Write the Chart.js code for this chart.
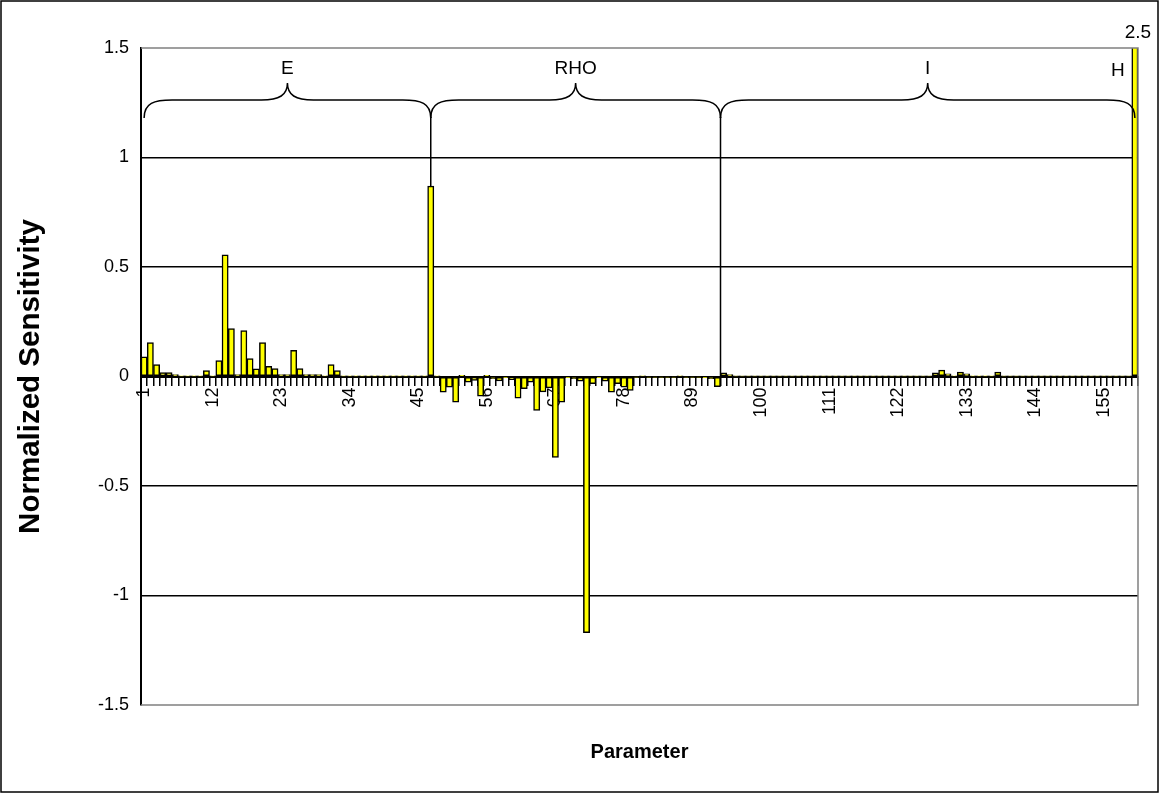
<!DOCTYPE html>
<html>
<head>
<meta charset="utf-8">
<script src="https://cdn.jsdelivr.net/npm/chart.js@4"></script>
<style>
  html, body { margin: 0; padding: 0; background: #fff; }
  #wrap { width: 1160px; height: 794px; }
</style>
</head>
<body>
<div id="wrap"><canvas id="sensChart"></canvas></div>
<script>
// parameter groups, values
const eValues = [
  0.09, 0.155, 0.055, 0.018, 0.018, 0.009, 0.002, 0.002, 0.002, 0.002,
  0.027, 0.002, 0.073, 0.556, 0.219, 0.009, 0.21, 0.082, 0.035, 0.155,
  0.046, 0.036, 0.009, 0.009, 0.12, 0.036, 0.009, 0.009, 0.009, 0.003,
  0.055, 0.027, 0.002, 0.002, 0.002, 0.002, 0.002, 0.002, 0.002, 0.002,
  0.002, 0.002, 0.002, 0.002, 0.002, 0.002, 0.87
];
const rhoValues = [
  0.002, -0.071, -0.049, -0.117, 0.005, -0.026, -0.018, -0.09, 0.005, -0.01,
  -0.02, -0.005, -0.015, -0.099, -0.055, -0.026, -0.155, -0.07, -0.052, -0.37,
  -0.117, -0.005, -0.01, -0.021, -1.17, -0.033, -0.005, -0.021, -0.071, -0.033,
  -0.049, -0.064, -0.003, 0.003, -0.003, -0.003, -0.003, -0.003, -0.003, 0.003,
  -0.003, -0.003, -0.003, -0.005, -0.01, -0.046
];
const iValues = [
  0.017, 0.009, 0.001, 0.001, 0.001, 0.001, 0.001, 0.001, 0.001, 0.001,
  0.001, 0.001, 0.001, 0.001, 0.001, 0.001, 0.001, 0.001, 0.001, 0.001,
  0.001, 0.001, 0.001, 0.001, 0.001, 0.001, 0.001, 0.001, 0.001, 0.001,
  0.001, 0.001, 0.001, 0.001, 0.017, 0.029, 0.012, 0.003, 0.02, 0.012,
  0.002, 0.002, 0.002, 0.002, 0.02, 0.001, 0.001, 0.001, 0.001, 0.001,
  0.001, 0.001, 0.001, 0.001, 0.001, 0.001, 0.001, 0.001, 0.001, 0.001,
  0.001, 0.001, 0.001, 0.001, 0.001, 0.001
];
const hValues = [2.5];

const groupNames = ["E", "RHO", "I"];
const braceEdges = [1, 47, 93.5, 160];   // in category units (1-based)
const yTicks = [-1.5, -1, -0.5, 0, 0.5, 1, 1.5];
const labelEvery = 11;

const values = eValues.concat(rhoValues, iValues, hValues);
const categories = values.map((v, i) => String(i + 1));

const FONT = "'Liberation Sans', Arial, sans-serif";

function drawBrace(ctx, xa, xb, yFlat) {
  const xm = (xa + xb) / 2;
  const yEnd = yFlat + 18, yTip = yFlat - 17;
  ctx.beginPath();
  ctx.moveTo(xa, yEnd);
  ctx.bezierCurveTo(xa, yFlat + 3, xa + 10, yFlat, xa + 28, yFlat);
  ctx.lineTo(xm - 26, yFlat);
  ctx.bezierCurveTo(xm - 8, yFlat, xm, yFlat - 5, xm, yTip);
  ctx.bezierCurveTo(xm, yFlat - 5, xm + 8, yFlat, xm + 26, yFlat);
  ctx.lineTo(xb - 28, yFlat);
  ctx.bezierCurveTo(xb - 10, yFlat, xb, yFlat + 3, xb, yEnd);
  ctx.stroke();
}

const annotate = {
  id: "annotate",
  beforeDatasetsDraw(chart) {
    const { ctx, scales: { x, y } } = chart;
    const step = x.getPixelForValue(1) - x.getPixelForValue(0);
    const px = c => x.getPixelForValue(0) + (c - 1) * step;
    ctx.save();
    ctx.strokeStyle = "#000";
    ctx.lineWidth = 1.5;
    [braceEdges[1], braceEdges[2]].forEach(c => {
      ctx.beginPath();
      ctx.moveTo(px(c), 117);
      ctx.lineTo(px(c), y.getPixelForValue(0));
      ctx.stroke();
    });
    ctx.restore();
  },
  afterDraw(chart) {
    const { ctx, chartArea: a, scales: { x } } = chart;
    const step = x.getPixelForValue(1) - x.getPixelForValue(0);
    const px = c => x.getPixelForValue(0) + (c - 1) * step;
    ctx.save();

    // plot area border (grey)
    ctx.strokeStyle = "#808080";
    ctx.lineWidth = 1.5;
    ctx.beginPath();
    ctx.moveTo(a.left, a.top);
    ctx.lineTo(a.right, a.top);
    ctx.lineTo(a.right, a.bottom);
    ctx.lineTo(a.left, a.bottom);
    ctx.stroke();

    // braces and group labels
    ctx.strokeStyle = "#000";
    ctx.fillStyle = "#000";
    ctx.font = "19px " + FONT;
    ctx.textAlign = "center";
    ctx.textBaseline = "middle";
    for (let g = 0; g < groupNames.length; g++) {
      const xa = px(braceEdges[g]), xb = px(braceEdges[g + 1]);
      drawBrace(ctx, xa, xb, 100);
      ctx.fillText(groupNames[g], (xa + xb) / 2, 69);
    }
    const lastX = x.getPixelForValue(values.length - 1);
    ctx.fillText("H", lastX - 17, 71);
    ctx.fillText(String(hValues[0]), lastX + 3, 33);

    // x axis title
    ctx.font = "bold 20px " + FONT;
    ctx.fillText("Parameter", (a.left + a.right) / 2, 752);

    // outer frame
    ctx.strokeStyle = "#000";
    ctx.lineWidth = 1.5;
    ctx.strokeRect(1, 1, 1157, 791);
    ctx.restore();
  }
};

new Chart(document.getElementById("sensChart"), {
  type: "bar",
  data: {
    labels: categories,
    datasets: [{
      data: values,
      backgroundColor: "#FFFF00",
      borderColor: "#000",
      borderWidth: 1.5,
      borderSkipped: false,
      barPercentage: 1,
      categoryPercentage: 1
    }]
  },
  options: {
    responsive: true,
    maintainAspectRatio: false,
    animation: false,
    layout: { padding: { left: 0, top: 48, right: 22, bottom: 89 } },
    plugins: {
      legend: { display: false },
      tooltip: { enabled: false }
    },
    scales: {
      x: {
        position: { y: 0 },
        offset: true,
        grid: {
          display: true,
          offset: true,
          drawOnChartArea: false,
          drawTicks: true,
          tickLength: 8,
          color: "#000",
          lineWidth: 1.5
        },
        border: { display: true, color: "#000", width: 2 },
        ticks: {
          autoSkip: false,
          maxRotation: 90,
          minRotation: 90,
          padding: 3,
          color: "#000",
          font: { size: 18, family: FONT },
          callback: (v, i) => (i % labelEvery === 0 ? categories[i] : "")
        }
      },
      y: {
        min: yTicks[0],
        max: yTicks[yTicks.length - 1],
        afterBuildTicks: s => { s.ticks = yTicks.map(v => ({ value: v })); },
        afterFit: s => { s.width = 141; },
        grid: {
          drawTicks: false,
          color: c => (Math.abs(c.tick.value) === 1.5 ? "rgba(0,0,0,0)" : "#000"),
          lineWidth: 1.5
        },
        border: { display: true, color: "#000", width: 2 },
        ticks: {
          padding: 12,
          color: "#000",
          font: { size: 18, family: FONT },
          callback: v => String(v)
        },
        title: {
          display: true,
          text: "Normalized Sensitivity",
          color: "#000",
          padding: { top: 13, bottom: 0 },
          font: { size: 29.5, weight: "bold", family: FONT }
        }
      }
    }
  },
  plugins: [annotate]
});
</script>
</body>
</html>
